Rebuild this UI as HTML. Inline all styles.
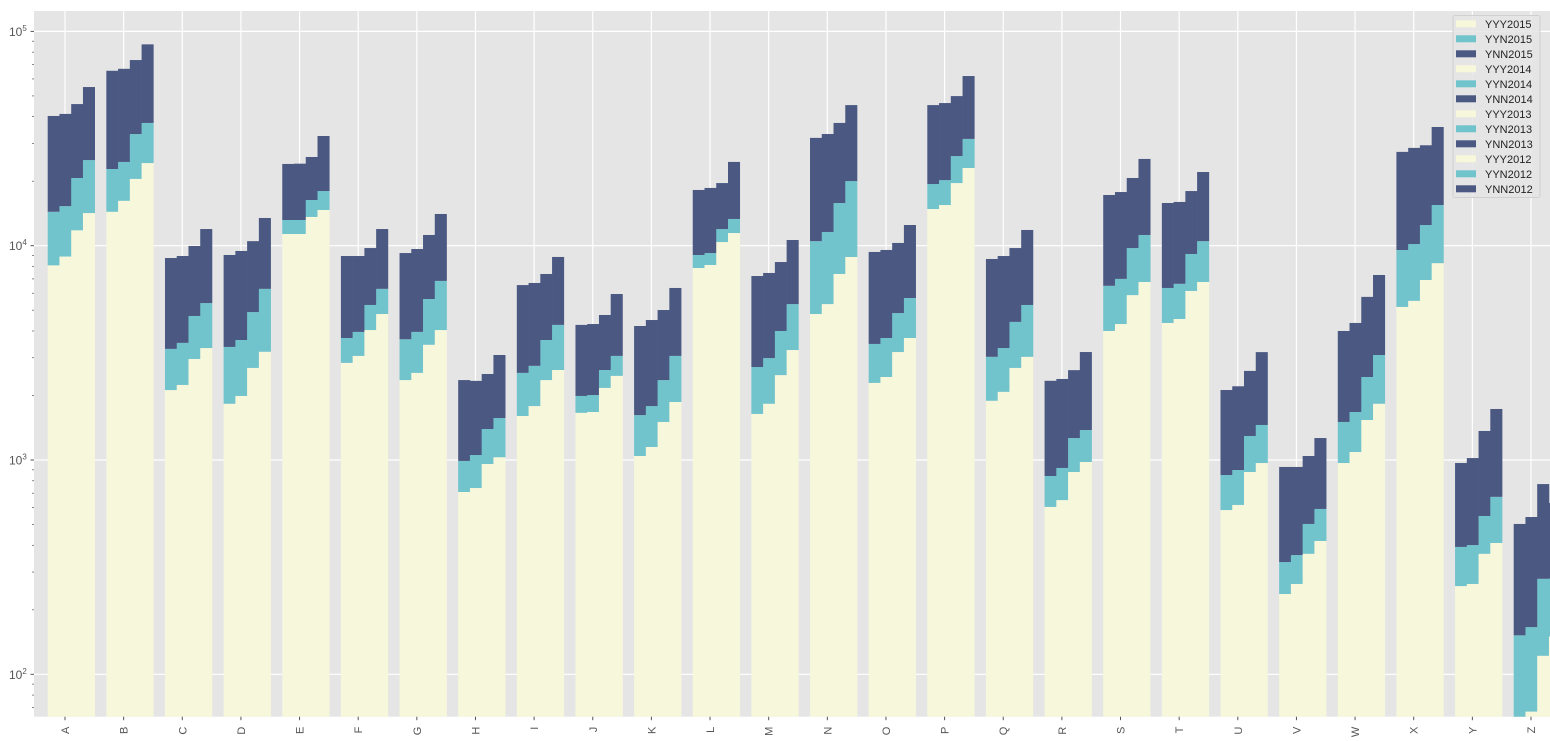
<!DOCTYPE html>
<html><head><meta charset="utf-8"><style>
html,body{margin:0;padding:0;background:#fff;}
svg{display:block;font-family:"Liberation Sans","DejaVu Sans",sans-serif;}
</style></head><body>
<svg id="chart" width="1550" height="741" xmlns="http://www.w3.org/2000/svg"></svg>
<script>
const categories = ['A','B','C','D','E','F','G','H','I','J','K','L','M','N','O','P','Q','R','S','T','U','V','W','X','Y','Z'];
const years = ['2015','2014','2013','2012'];
const yyy2015 = [8100,14400,2120,1830,11340,2840,2360,709,1605,1660,1044,7870,1640,4800,2290,14830,1890,604,4000,4360,584,237,968,5180,258,50];
const yyn2015 = [6300,8400,1180,1540,1840,870,1300,281,945,330,576,1180,1075,5700,1190,4570,1140,238,2500,1990,267,97,537,4370,135,102];
const ynn2015 = [25900,42700,5460,5680,10890,5240,5580,1370,4000,2280,2600,9150,4505,21350,5870,25900,5640,1500,10740,9470,1270,594,2495,17850,575,351];
const yyy2014 = [8900,16200,2240,1990,11340,3060,2550,740,1785,1675,1150,8130,1830,5340,2440,15480,2080,650,4310,4550,617,264,1090,5530,264,67];
const yyn2014 = [6400,8400,1280,1640,1840,900,1410,315,965,335,635,1110,1160,6250,1270,4750,1250,268,2690,2090,281,96,585,4650,137,99];
const ynn2014 = [25900,42300,5430,5820,10960,4990,5690,1285,3950,2300,2715,9360,4470,21610,5840,26070,5620,1470,10800,9360,1310,568,2685,18420,620,376];
const yyy2013 = [11800,20500,2960,2690,13620,4040,3450,958,2360,2170,1505,10400,2490,7380,3190,19600,2690,879,5880,6150,879,365,1537,6920,365,122];
const yyn2013 = [8900,12700,1740,2210,2720,1250,2190,437,1270,460,855,1560,1510,8440,1660,6600,1720,387,3870,3000,415,138,903,5570,183,157];
const ynn2013 = [25100,40300,5270,5600,9600,4460,5580,1125,3750,2120,2650,7640,4390,21580,5450,23700,5340,1360,10950,8840,1310,541,3330,16930,818,493];
const yyy2012 = [14200,24300,3330,3200,14680,4800,4040,1030,2630,2470,1865,11460,3260,8860,3710,23050,3030,979,6770,6770,968,419,1830,8290,410,150];
const yyn2012 = [10900,13100,2070,3090,3310,1490,2810,540,1640,590,1195,1870,2080,11170,1990,8450,2260,401,4450,3730,489,172,1260,7190,263,130];
const ynn2012 = [29900,49600,6560,7180,14510,5670,7210,1520,4590,2890,3290,11270,5290,25270,6790,30400,6550,1810,14180,11570,1730,675,4210,20320,1057,350];
const yTickExps = [2,3,4,5];

const series = [[yyy2015,yyn2015,ynn2015],[yyy2014,yyn2014,ynn2014],[yyy2013,yyn2013,ynn2013],[yyy2012,yyn2012,ynn2012]];
const segNames = ['YYY','YYN','YNN'];
const colors = ['#f7f7dc','#71c3cc','#4a5882'];

const NS='http://www.w3.org/2000/svg';
const svg=document.getElementById('chart');
const L=34,T=11,R=1550,B=716.7;
const yScale=v=>674.3-(Math.log10(v)-2)*214.3;
const xTick=i=>65+i*58.64;
const barW=11.75;
function mk(tag,attrs,parent){const e=document.createElementNS(NS,tag);for(const k in attrs)e.setAttribute(k,attrs[k]);(parent||svg).appendChild(e);return e;}

const bg=mk('rect',{x:L,y:T,width:R-L,height:B-T,fill:'#e5e5e5'});


const defs=mk('defs',{});
const cp=mk('clipPath',{id:'clip'},defs);
mk('rect',{x:L,y:T,width:R-L,height:B-T},cp);

const grid=mk('g',{});


yTickExps.forEach(e=>{const y=yScale(Math.pow(10,e));mk('line',{x1:L,x2:R,y1:y,y2:y,stroke:'#fff','stroke-width':1.2},grid);});
categories.forEach((c,i)=>{const x=xTick(i);mk('line',{x1:x,x2:x,y1:T,y2:B,stroke:'#fff','stroke-width':1.2},grid);});

const bars=mk('g',{'clip-path':'url(#clip)'});


categories.forEach((c,i)=>{
  series.forEach((ser,j)=>{
    const x=xTick(i)-17.3+j*barW;
    let base=0;
    ser.forEach((arr,k)=>{
      const v=arr[i];
      const y0=base>0?yScale(base):B+5;
      const y1=yScale(base+v);
      const r=mk('rect',{x:x,y:y1,width:barW+0.3,height:Math.max(0,y0-y1),fill:colors[k]},bars);
      
      
      base+=v;
    });
  });
});

const yAxis=mk('g',{fill:'#555','font-size':12});


for(let e=1;e<=5;e++){for(let m=1;m<10;m++){const v=m*Math.pow(10,e);const y=yScale(v);if(y<T||y>B)continue;
  mk('line',{x1:m===1?30.5:32,x2:L,y1:y,y2:y,stroke:'#555','stroke-width':m===1?1:0.7},yAxis);}}
yTickExps.forEach(e=>{const y=yScale(Math.pow(10,e));
  const t=mk('text',{x:9,y:y+4.5},yAxis);
  
  
  t.textContent='10';
  const s=mk('tspan',{'font-size':8,dy:-5},t);s.textContent=String(e);
});

const xAxis=mk('g',{fill:'#555','font-size':11});


categories.forEach((c,i)=>{const x=xTick(i);
  mk('line',{x1:x,x2:x,y1:B,y2:B+3.5,stroke:'#555','stroke-width':1},xAxis);
  const t=mk('text',{x:0,y:0,transform:'translate('+(x+4)+','+(B+10)+') rotate(-90)','text-anchor':'end'},xAxis);
  
  
  t.textContent=c;
});

const lg=mk('g',{});


mk('rect',{x:1453,y:15.5,width:87,height:182,rx:2,fill:'#e5e5e5','fill-opacity':0.85,stroke:'#d0d0d0','stroke-width':1},lg);
let n=0;
years.forEach(yr=>{segNames.forEach((s,k)=>{
  const cy=23.8+n*15;
  const ent=mk('g',{},lg);
  
  
  mk('rect',{x:1456,y:cy-3.5,width:20,height:7,fill:colors[k]},ent);
  const t=mk('text',{x:1485,y:cy+4,'font-size':11,fill:'#222'},ent);
  t.textContent=s+yr;
  n++;
});});
</script>
</body></html>
